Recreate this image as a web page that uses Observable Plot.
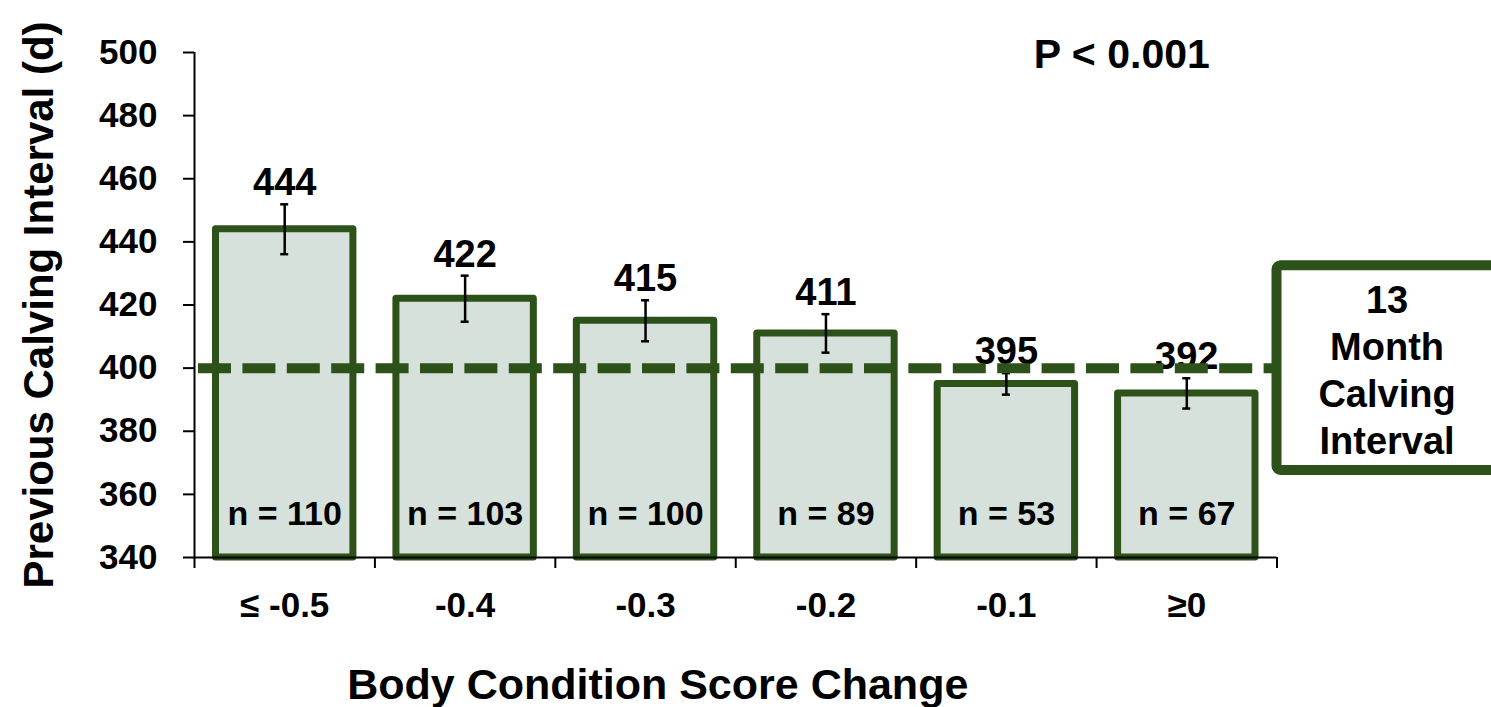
<!DOCTYPE html>
<html>
<head>
<meta charset="utf-8">
<script src="https://cdn.jsdelivr.net/npm/d3@7"></script>
<script src="https://cdn.jsdelivr.net/npm/@observablehq/plot@0.6"></script>
<style>
  html, body { margin: 0; padding: 0; background: #ffffff; }
  #chart svg { display: block; }
</style>
</head>
<body>
<div id="chart"></div>
<script>
// ---- data ----
const categories = ["≤ -0.5", "-0.4", "-0.3", "-0.2", "-0.1", "≥0"];
const means = [444, 422, 415, 411, 395, 392];
const errors = [7.9, 7.3, 6.5, 6.1, 3.4, 4.8];
const counts = [110, 103, 100, 89, 53, 67];
const yTicks = [340, 360, 380, 400, 420, 440, 460, 480, 500];
const target = 400;
const targetLabel = "13\nMonth\nCalving\nInterval";
const pLabel = "P < 0.001";
const xTitle = "Body Condition Score Change";
const yTitle = "Previous Calving Interval (d)";

// ---- styling ----
const GREEN = "#2c5219";
const FILL = "#d6e1db";
const FONT = "'Liberation Sans', Arial, Helvetica, sans-serif";

const rows = categories.map((c, i) => ({
  i, cat: c, mean: means[i], lo: means[i] - errors[i], hi: means[i] + errors[i], n: counts[i]
}));

const chart = Plot.plot({
  width: 1491,
  height: 707,
  marginLeft: 194,
  marginRight: 214.5,
  marginTop: 52,
  marginBottom: 150,
  style: { fontFamily: FONT, fontWeight: "bold", color: "#000", background: "#fff" },
  x: { domain: [0, categories.length] },
  y: { domain: [340, 500] },
  marks: [
    // bars
    Plot.rectY(rows, {
      x1: d => d.i, x2: d => d.i + 1, y1: 340, y2: "mean",
      insetLeft: 21.5, insetRight: 21.5,
      fill: FILL, stroke: GREEN, strokeWidth: 7, strokeLinejoin: "round"
    }),
    // error bars
    Plot.ruleX(rows, { x: d => d.i + 0.5, y1: "lo", y2: "hi", stroke: "#000", strokeWidth: 2.5 }),
    Plot.ruleY(rows, { y: "hi", x1: d => d.i + 0.5, x2: d => d.i + 0.5, insetLeft: -4, insetRight: -4, stroke: "#000", strokeWidth: 2.5 }),
    Plot.ruleY(rows, { y: "lo", x1: d => d.i + 0.5, x2: d => d.i + 0.5, insetLeft: -4, insetRight: -4, stroke: "#000", strokeWidth: 2.5 }),
    // value labels
    Plot.text(rows, { x: d => d.i + 0.5, y: "hi", text: d => String(d.mean), dy: -9, lineAnchor: "bottom", fontSize: 38, fill: "#000" }),
    // n labels
    Plot.text(rows, { x: d => d.i + 0.5, text: d => `n = ${d.n}`, frameAnchor: "bottom", dy: -33, lineAnchor: "bottom", fontSize: 34, fill: "#000" }),
    // 13-month target line
    Plot.ruleY([target], { x1: 0, x2: categories.length, stroke: GREEN, strokeWidth: 10, strokeDasharray: "33,11.4", strokeDashoffset: -4 }),
    // axes
    Plot.ruleX([0], { y1: 340, y2: 500, stroke: "#000", strokeWidth: 2 }),
    Plot.ruleY([340], { x1: 0, x2: categories.length, stroke: "#000", strokeWidth: 2 }),
    Plot.axisY({ ticks: yTicks, tickSize: 11, tickPadding: 26, fontSize: 35, strokeWidth: 2, label: null, tickFormat: d => String(d) }),
    Plot.axisX({ ticks: d3.range(0, categories.length + 1), tickSize: 11, strokeWidth: 2, tickFormat: () => "", label: null }),
    Plot.axisX({ ticks: categories.map((c, i) => i + 0.5), tickSize: 0, tickPadding: 35, fontSize: 35, label: null, tickFormat: d => categories[Math.floor(d)] }),
    // target box annotation
    Plot.rect([target], { x1: categories.length, x2: categories.length + 1.6, y1: d => d - 32.4, y2: d => d + 32.4, fill: "#fff", stroke: GREEN, strokeWidth: 10, rx: 4 }),
    Plot.text([targetLabel], { x: categories.length + 0.61, y: target, text: d => d, fontSize: 38, lineHeight: 1.237, fill: "#000" }),
    // P value
    Plot.text([pLabel], { x: 5.14, y: 500, text: d => d, dy: 15, lineAnchor: "bottom", fontSize: 41, fill: "#000" }),
    // titles
    Plot.text([xTitle], { frameAnchor: "bottom", text: d => d, dx: -78, dy: 141, lineAnchor: "bottom", textAnchor: "middle", fontSize: 43, fill: "#000" }),
    Plot.text([yTitle], { frameAnchor: "left", text: d => d, rotate: -90, dx: -142, lineAnchor: "bottom", textAnchor: "middle", fontSize: 42, fill: "#000" })
  ]
});

document.getElementById("chart").appendChild(chart);
</script>
</body>
</html>
